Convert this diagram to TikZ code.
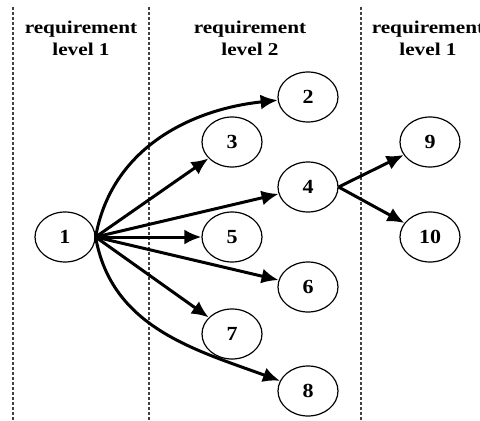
\documentclass[tikz,border=0pt]{standalone}
\usepackage{fontspec}
\setmainfont{Liberation Serif}
\usetikzlibrary{arrows.meta,shapes.geometric}
\begin{document}
\begin{tikzpicture}[x=1pt,y=1pt,
  req/.style={ellipse,draw,line width=1.2pt,minimum width=60pt,minimum height=50pt,inner sep=0pt,
    font=\fontsize{20}{22}\selectfont\bfseries},
  link/.style={line width=3pt,-{Latex[length=17pt,width=15pt]}},
  divider/.style={line width=1.5pt,gray!50!black,dash pattern=on 3pt off 2pt},
  head/.style={anchor=base,inner sep=0pt,font=\fontsize{18}{20}\selectfont\bfseries}]
\useasboundingbox (0,0) rectangle (480,-421);
\clip (0,0) rectangle (480,-421);

% column dividers
\coordinate (d1t) at (13,-7);   \coordinate (d1b) at (13,-421);
\coordinate (d2t) at (149,-7);  \coordinate (d2b) at (149,-421);
\coordinate (d3t) at (361,-7);  \coordinate (d3b) at (361,-421);
\draw[divider] (d1t) -- (d1b);
\draw[divider] (d2t) -- (d2b);
\draw[divider] (d3t) -- (d3b);

% column headings
\node[head] (h1a) at (81,-33) {\scalebox{1.18}[1]{requirement}};
\node[head] (h1b) at (81,-55) {\scalebox{1.18}[1]{level 1}};
\node[head] (h2a) at (250,-33) {\scalebox{1.18}[1]{requirement}};
\node[head] (h2b) at (250,-55) {\scalebox{1.18}[1]{level 2}};
\node[head] (h3a) at (428,-33) {\scalebox{1.18}[1]{requirement}};
\node[head] (h3b) at (428,-55) {\scalebox{1.18}[1]{level 1}};

% requirements
\node[req] (n1)  at (65,-237)  {\scalebox{1.1}[1]{1}};
\node[req] (n2)  at (308,-97)  {\scalebox{1.1}[1]{2}};
\node[req] (n3)  at (232,-142) {\scalebox{1.1}[1]{3}};
\node[req] (n4)  at (308,-187) {\scalebox{1.1}[1]{4}};
\node[req] (n5)  at (232,-237) {\scalebox{1.1}[1]{5}};
\node[req] (n6)  at (308,-287) {\scalebox{1.1}[1]{6}};
\node[req] (n7)  at (232,-334) {\scalebox{1.1}[1]{7}};
\node[req] (n8)  at (308,-391) {\scalebox{1.1}[1]{8}};
\node[req] (n9)  at (430,-142) {\scalebox{1.1}[1]{9}};
\node[req] (n10) at (430,-237) {\scalebox{1.1}[1]{10}};

% dependencies
\draw[link] (n1.east) to[out=80,in=186] (n2);
\draw[link] (n1.east) -- (n3);
\draw[link] (n1.east) -- (n4);
\draw[link] (n1.east) -- (n5);
\draw[link] (n1.east) -- (n6);
\draw[link] (n1.east) -- (n7);
\draw[link] (n1.east) to[out=-80,in=160] (n8);
\draw[link] (n4.east) -- (n9);
\draw[link] (n4.east) -- (n10);
\end{tikzpicture}
\end{document}
